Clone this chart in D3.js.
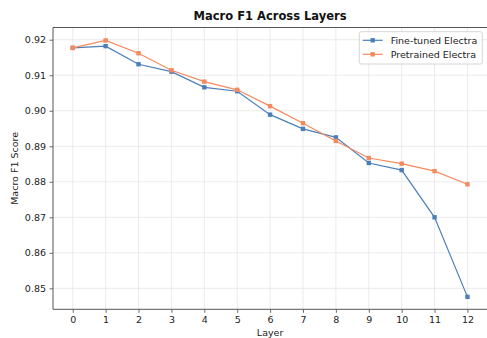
<!DOCTYPE html>
<html><head><meta charset="utf-8">
<script src="https://cdn.jsdelivr.net/npm/d3@7"></script>
<style>body{margin:0;background:#fff}svg{display:block}</style>
</head><body><svg id="c" width="487" height="338"></svg>
<script>
const layers = [0,1,2,3,4,5,6,7,8,9,10,11,12];
const fineTuned = [0.9177,0.9182,0.9131,0.9110,0.9066,0.9055,0.8989,0.8949,0.8925,0.8853,0.8833,0.8700,0.8476];
const pretrained = [0.9177,0.9198,0.9162,0.9114,0.9082,0.9059,0.9013,0.8965,0.8915,0.8867,0.8851,0.8830,0.8793];
const yTicks = [0.85,0.86,0.87,0.88,0.89,0.90,0.91,0.92];
const seriesNames = ["Fine-tuned Electra","Pretrained Electra"];
const colors = ["#4C7FB8","#F58A5E"];

const svg = d3.select("#c");
const font = "DejaVu Sans, sans-serif";
const fs = 9.5;
const L=53, R=487.2, T=27.5, B=309.3;
const x = d3.scaleLinear().domain([-0.6,12.6]).range([L,R]);
const y = d3.scaleLinear().domain([0.8441,0.92344]).range([B,T]);

// grid
const g = svg.append("g");
g.selectAll(".vg").data(layers).join("line")
  .attr("x1",d=>x(d)).attr("x2",d=>x(d)).attr("y1",T).attr("y2",B)
  .attr("stroke","#e6e6e6").attr("stroke-width",0.8);
g.selectAll(".hg").data(yTicks).join("line")
  .attr("x1",L).attr("x2",R).attr("y1",d=>y(d)).attr("y2",d=>y(d))
  .attr("stroke","#e6e6e6").attr("stroke-width",0.8);

// axes
const xAxis = svg.append("g").attr("transform",`translate(0,${B})`)
  .call(d3.axisBottom(x).tickValues(layers).tickFormat(d3.format("d")).tickSizeOuter(0).tickSize(3.5).tickPadding(3.5));
const yAxis = svg.append("g").attr("transform",`translate(${L},0)`)
  .call(d3.axisLeft(y).tickValues(yTicks).tickFormat(d3.format(".2f")).tickSizeOuter(0).tickSize(3.5).tickPadding(3.5));
[xAxis,yAxis].forEach(a=>{
  a.select(".domain").remove();
  a.selectAll("line").attr("stroke","#444").attr("stroke-width",0.8);
  a.selectAll("text").attr("font-family",font).attr("font-size",fs).attr("fill","#222");
});
// spines
svg.append("line").attr("x1",L).attr("x2",L).attr("y1",T).attr("y2",B).attr("stroke","#555").attr("stroke-width",1);
svg.append("line").attr("x1",L).attr("x2",R).attr("y1",B).attr("y2",B).attr("stroke","#555").attr("stroke-width",1);
svg.append("line").attr("x1",L).attr("x2",R).attr("y1",T).attr("y2",T).attr("stroke","#555").attr("stroke-width",1);

// series
[fineTuned,pretrained].forEach((vals,i)=>{
  const data = layers.map((l,j)=>({l,v:vals[j]}));
  svg.append("path").datum(data)
    .attr("d",d3.line().x(d=>x(d.l)).y(d=>y(d.v)))
    .attr("fill","none").attr("stroke",colors[i]).attr("stroke-width",1.2);
  svg.append("g").selectAll("rect").data(data).join("rect")
    .attr("x",d=>x(d.l)-2.2).attr("y",d=>y(d.v)-2.2).attr("width",4.4).attr("height",4.4)
    .attr("fill",colors[i]);
});

// title & labels
svg.append("text").attr("x",(L+R)/2).attr("y",20).attr("text-anchor","middle")
  .attr("font-family",font).attr("font-size",11.5).attr("font-weight","bold").attr("fill","#111")
  .text("Macro F1 Across Layers");
svg.append("text").attr("x",(L+R)/2).attr("y",336).attr("text-anchor","middle")
  .attr("font-family",font).attr("font-size",fs).attr("fill","#222").text("Layer");
svg.append("text").attr("transform",`translate(18,${(T+B)/2}) rotate(-90)`).attr("text-anchor","middle")
  .attr("font-family",font).attr("font-size",fs).attr("fill","#222").text("Macro F1 Score");

// legend
const lg = svg.append("g");
lg.append("rect").attr("x",359.3).attr("y",31.7).attr("width",123).attr("height",32.3).attr("rx",2)
  .attr("fill","#fff").attr("fill-opacity",0.85).attr("stroke","#ccc").attr("stroke-width",0.8);
seriesNames.forEach((n,i)=>{
  const yy = 40.3 + i*14;
  lg.append("line").attr("x1",362.7).attr("x2",382.7).attr("y1",yy).attr("y2",yy).attr("stroke",colors[i]).attr("stroke-width",1.2);
  lg.append("rect").attr("x",372.7-2.2).attr("y",yy-2.2).attr("width",4.4).attr("height",4.4).attr("fill",colors[i]);
  lg.append("text").attr("x",390.7).attr("y",yy+3.5).attr("font-family",font).attr("font-size",fs).attr("fill","#222").text(n);
});
</script></body></html>
